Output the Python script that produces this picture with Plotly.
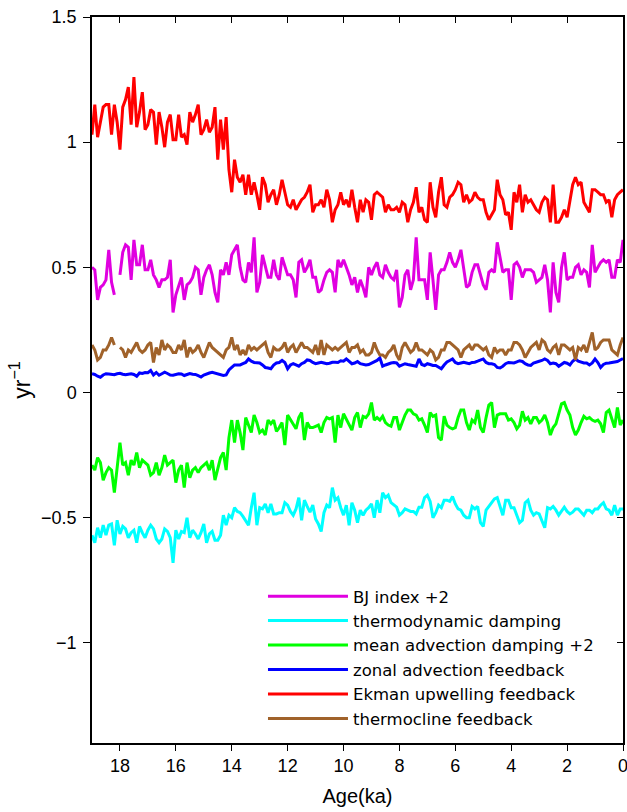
import plotly.graph_objects as go

age = [round(19.0 - 0.1 * i, 1) for i in range(191)]

bj_index = [0.50,0.49,0.37,0.42,0.43,0.45,0.57,0.44,0.39,None, 0.47,0.56,0.59,0.58,0.45,0.61,0.51,0.51,0.59,0.49,
            0.49,0.53,0.47,0.45,0.42,0.45,0.45,0.46,0.53,0.32, 0.39,0.43,0.46,0.37,0.43,0.44,0.46,0.50,0.49,0.39,
            0.46,0.49,0.51,0.47,0.40,0.36,0.49,0.47,
            0.52,0.47,0.55,0.57,0.59,0.50,0.45,0.44,0.52,0.48, 0.62,0.40,0.44,0.55,0.51,0.46,0.46,0.53,0.47,0.45,
            0.54,0.50,0.47,0.47,0.45,0.38,0.52,0.53,0.48,0.50, 0.53,0.46,0.46,0.40,0.41,0.45,0.48,0.49,0.48,0.40,
            0.53,0.50,0.53,0.50,0.47,0.43,0.46,0.40,
            0.45,0.42,0.38,0.50,0.47,0.50,0.52,0.47,0.46,0.51, 0.48,0.46,0.45,0.49,0.34,0.38,0.47,0.49,0.41,0.45,
            0.62,0.45,0.45,0.45,0.37,0.56,0.45,0.33,0.47,0.49, 0.49,0.52,0.56,0.52,0.50,0.53,0.57,0.49,0.42,0.43,
            0.48,0.51,0.51,0.47,0.43,0.41,0.48,
            0.49,0.48,0.60,0.54,0.48,0.49,0.49,0.37,0.51,0.52, 0.50,0.46,0.49,0.49,0.49,0.48,0.44,0.45,0.46,0.51,
            0.45,0.32,0.52,0.40,0.36,0.50,0.56,0.45,0.46,0.46, 0.50,0.51,0.47,0.49,0.48,0.42,0.59,0.48,0.50,0.52,
            0.53,0.52,0.53,0.46,0.46,0.53,0.52,0.61]

thermo_damping = [-0.57,-0.60,-0.54,-0.58,-0.53,-0.57,-0.53,-0.525,-0.61,-0.51, -0.565,-0.535,-0.545,-0.58,-0.56,-0.55,-0.60,-0.535,-0.56,-0.58,
                  -0.55,-0.53,-0.545,-0.585,-0.60,-0.585,-0.545,-0.555,-0.58,-0.68, -0.55,-0.585,-0.555,-0.56,-0.50,-0.58,-0.55,-0.565,-0.585,-0.56,
                  -0.525,-0.60,-0.565,-0.555,-0.59,-0.59,-0.57,-0.49,
                  -0.53,-0.49,-0.50,-0.46,-0.475,-0.48,-0.495,-0.51,-0.53,-0.46, -0.40,-0.53,-0.46,-0.465,-0.445,-0.48,-0.445,-0.485,-0.485,-0.48,
                  -0.48,-0.44,-0.45,-0.475,-0.49,-0.465,-0.42,-0.51,-0.43,-0.455, -0.478,-0.45,-0.505,-0.525,-0.555,-0.48,-0.45,-0.46,-0.38,-0.43,
                  -0.42,-0.46,-0.49,-0.45,-0.53,-0.44,-0.47,-0.52,
                  -0.47,-0.49,-0.47,-0.46,-0.445,-0.50,-0.43,-0.48,-0.40,-0.42, -0.41,-0.44,-0.45,-0.458,-0.49,-0.48,-0.465,-0.47,-0.475,-0.475,
                  -0.485,-0.458,-0.458,-0.42,-0.41,-0.435,-0.50,-0.48,-0.45,-0.46, -0.43,-0.43,-0.435,-0.415,-0.445,-0.465,-0.47,-0.49,-0.50,-0.50,
                  -0.455,-0.465,-0.455,-0.52,-0.535,-0.47,-0.455,
                  -0.44,-0.425,-0.42,-0.46,-0.49,-0.43,-0.43,-0.46,-0.46,-0.49, -0.52,-0.51,-0.44,-0.43,-0.47,-0.49,-0.48,-0.485,-0.51,-0.54,
                  -0.46,-0.465,-0.455,-0.47,-0.49,-0.475,-0.458,-0.475,-0.485,-0.478, -0.465,-0.465,-0.48,-0.49,-0.47,-0.47,-0.48,-0.465,-0.465,-0.45,
                  -0.44,-0.465,-0.47,-0.49,-0.45,-0.49,-0.465,-0.465]

mean_adv_damping = [-0.29,-0.31,-0.26,-0.28,-0.35,-0.32,-0.30,-0.31,-0.40,-0.29, -0.20,-0.29,-0.28,-0.33,-0.27,-0.29,-0.24,-0.30,-0.27,-0.28,
                    -0.29,-0.33,-0.32,-0.28,-0.33,-0.30,-0.25,-0.29,-0.28,-0.27, -0.36,-0.31,-0.29,-0.38,-0.28,-0.34,-0.31,-0.30,-0.32,-0.30,
                    -0.29,-0.28,-0.31,-0.27,-0.35,-0.31,-0.26,-0.24,
                    -0.31,-0.18,-0.11,-0.20,-0.11,-0.16,-0.23,-0.10,-0.13,-0.16, -0.09,-0.12,-0.16,-0.15,-0.17,-0.11,-0.125,-0.11,-0.155,-0.14,
                    -0.12,-0.21,-0.09,-0.11,-0.13,-0.145,-0.10,-0.08,-0.19,-0.12, -0.14,-0.14,-0.135,-0.13,-0.16,-0.12,-0.10,-0.105,-0.10,-0.20,
                    -0.09,-0.14,-0.085,-0.105,-0.13,-0.15,-0.10,-0.08,
                    -0.14,-0.095,-0.10,-0.085,-0.04,-0.11,-0.10,-0.11,-0.095,-0.12, -0.13,-0.135,-0.10,-0.10,-0.15,-0.12,-0.09,-0.07,-0.07,-0.085,
                    -0.09,-0.11,-0.105,-0.13,-0.16,-0.08,-0.095,-0.09,-0.18,-0.19, -0.095,-0.13,-0.14,-0.145,-0.14,-0.10,-0.07,-0.07,-0.12,-0.15,
                    -0.11,-0.12,-0.07,-0.14,-0.16,-0.10,-0.05,
                    -0.04,-0.14,-0.09,-0.085,-0.085,-0.085,-0.11,-0.105,-0.12,-0.145, -0.13,-0.075,-0.11,-0.10,-0.125,-0.10,-0.10,-0.12,-0.11,-0.09,
                    -0.12,-0.17,-0.14,-0.125,-0.085,-0.045,-0.04,-0.07,-0.09,-0.14, -0.17,-0.15,-0.12,-0.095,-0.105,-0.10,-0.11,-0.115,-0.11,-0.125,
                    -0.16,-0.08,-0.07,-0.11,-0.14,-0.06,-0.13,-0.11]

zonal_adv = [0.075,0.072,0.065,0.061,0.070,0.075,0.074,0.072,0.071,0.075, 0.077,0.073,0.071,0.073,0.075,0.072,0.065,0.078,0.076,0.080,
             0.079,0.088,0.070,0.080,0.069,0.075,0.081,0.076,0.070,0.069, 0.072,0.075,0.074,0.068,0.072,0.076,0.073,0.072,0.067,0.062,
             0.070,0.075,0.078,0.081,0.077,0.073,0.069,0.068,
             0.070,0.090,0.100,0.110,0.110,0.110,0.115,0.120,0.134,0.125, 0.120,0.120,0.118,0.110,0.100,0.098,0.095,0.110,0.118,0.120,
             0.128,0.120,0.095,0.110,0.115,0.110,0.105,0.115,0.120,0.130, 0.128,0.120,0.115,0.118,0.121,0.118,0.115,0.117,0.121,0.121,
             0.120,0.127,0.125,0.134,0.125,0.115,0.118,0.124,
             0.115,0.113,0.110,0.112,0.118,0.122,0.128,0.138,0.105,0.110, 0.115,0.118,0.120,0.118,0.105,0.110,0.115,0.112,0.110,0.108,
             0.105,0.134,0.112,0.108,0.115,0.112,0.108,0.108,0.100,0.095, 0.110,0.122,0.128,0.134,0.120,0.115,0.118,0.121,0.118,0.115,
             0.120,0.121,0.125,0.130,0.134,0.120,0.115,
             0.115,0.112,0.100,0.098,0.105,0.115,0.120,0.120,0.118,0.122, 0.127,0.124,0.115,0.110,0.108,0.118,0.120,0.125,0.128,0.134,
             0.128,0.115,0.118,0.115,0.105,0.112,0.120,0.117,0.110,0.125, 0.134,0.125,0.120,0.118,0.118,0.110,0.118,0.134,0.120,0.100,
             0.112,0.117,0.118,0.120,0.121,0.124,0.130,0.136]

ekman = [1.03,1.15,1.02,1.08,1.14,1.15,1.15,1.03,1.15,1.08, 0.97,1.14,1.17,1.22,1.07,1.26,1.06,1.12,1.20,1.05,
         1.07,1.13,1.12,0.99,1.12,1.06,0.98,1.08,1.11,1.01, 1.01,1.11,1.02,1.03,0.99,1.12,1.08,1.11,1.15,1.03,
         1.05,1.09,1.04,1.06,1.14,0.93,1.09,0.97,
         1.10,0.89,0.80,0.93,0.86,0.84,0.87,0.79,0.87,0.79, 0.84,0.79,0.73,0.86,0.83,0.76,0.79,0.81,0.75,0.79,
         0.85,0.80,0.75,0.74,0.77,0.73,0.75,0.77,0.78,0.80, 0.83,0.72,0.75,0.75,0.77,0.74,0.81,0.77,0.68,0.73,
         0.75,0.80,0.75,0.77,0.74,0.81,0.74,0.68,
         0.77,0.72,0.77,0.76,0.69,0.79,0.80,0.79,0.78,0.72, 0.75,0.73,0.73,0.74,0.72,0.76,0.75,0.68,0.73,0.76,
         0.82,0.72,0.74,0.69,0.68,0.84,0.74,0.70,0.80,0.86, 0.75,0.74,0.78,0.79,0.81,0.84,0.83,0.76,0.79,0.76,
         0.77,0.80,0.78,0.77,0.77,0.72,0.69,
         0.71,0.73,0.85,0.79,0.77,0.71,0.72,0.65,0.80,0.76, 0.83,0.72,0.79,0.76,0.77,0.75,0.73,0.72,0.76,0.78,
         0.77,0.68,0.83,0.68,0.68,0.70,0.73,0.70,0.77,0.83, 0.86,0.83,0.84,0.76,0.74,0.72,0.81,0.81,0.80,0.79,
         0.79,0.76,0.77,0.70,0.77,0.79,0.80,0.81]

thermocline = [0.19,0.17,0.13,0.14,0.17,0.17,0.19,0.22,0.19,None, 0.18,0.17,0.14,0.17,0.16,0.18,0.20,0.17,0.16,0.17,
               0.19,0.20,0.12,0.18,0.15,0.21,0.17,0.19,0.18,0.16, 0.16,0.19,0.17,0.21,0.14,0.18,0.16,0.17,0.19,0.16,
               0.14,0.17,0.20,0.18,0.17,0.16,0.15,0.14,
               0.17,0.18,0.22,0.17,0.19,0.15,0.17,0.15,0.19,0.17, 0.18,0.17,0.18,0.19,0.20,0.16,0.14,0.18,0.17,0.17,
               0.18,0.20,0.16,0.18,0.19,0.16,0.18,0.20,0.18,0.18, 0.17,0.16,0.19,0.15,0.21,0.15,0.19,0.18,0.17,0.18,
               0.17,0.18,0.19,0.20,0.16,0.18,0.18,0.19,
               0.16,0.17,0.15,0.15,0.16,0.20,0.17,0.15,0.15,0.14, 0.16,0.17,0.19,0.15,0.13,0.18,0.20,0.18,0.16,0.17,
               0.20,0.17,0.17,0.16,0.15,0.17,0.16,0.13,0.14,0.17, 0.17,0.20,0.20,0.19,0.18,0.17,0.14,0.17,0.18,0.19,
               0.17,0.19,0.19,0.18,0.17,0.18,0.15,
               0.14,0.18,0.16,0.17,0.17,0.15,0.17,0.17,0.20,0.20, 0.19,0.17,0.14,0.16,0.18,0.19,0.20,0.17,0.21,0.20,
               0.17,0.16,0.18,0.19,0.15,0.19,0.19,0.18,0.17,0.18, 0.13,0.18,0.17,0.19,0.16,0.20,0.24,0.17,0.18,0.20,
               0.21,0.21,0.21,0.17,0.16,0.15,0.19,0.22]

series_names = ["BJ index +2", "thermodynamic damping", "mean advection damping +2",
                "zonal advection feedback", "Ekman upwelling feedback", "thermocline feedback"]
series_values = [bj_index, thermo_damping, mean_adv_damping, zonal_adv, ekman, thermocline]
series_colors = ["#E000E0", "#00FFFF", "#00FF00", "#0000FF", "#FF0000", "#A0622A"]

x_ticks = [0, 2, 4, 6, 8, 10, 12, 14, 16, 18]
y_ticks = [-1, -0.5, 0, 0.5, 1, 1.5]

for v in series_values:
    assert len(v) == len(age), len(v)

FONT = "Liberation Sans, Arial, Helvetica, sans-serif"
LEG_FONT = "DejaVu Sans, Liberation Sans, sans-serif"

fig = go.Figure()
for name, vals, col in zip(series_names, series_values, series_colors):
    fig.add_trace(go.Scatter(x=age, y=vals, mode="lines", name=name,
                             line=dict(color=col, width=3), connectgaps=False))

# empty trace so that the mirrored top/right frame axes get drawn
fig.add_trace(go.Scatter(x=[None], y=[None], xaxis="x2", yaxis="y2", mode="lines",
                         showlegend=False, hoverinfo="skip"))

axis_common = dict(showgrid=False, zeroline=False, showline=True, linecolor="black",
                   linewidth=1.5, tickcolor="black", tickwidth=1.2,
                   tickfont=dict(family=FONT, size=18, color="black"))

fig.update_layout(
    width=627, height=812,
    margin=dict(l=92, r=4, t=17, b=69),
    paper_bgcolor="white", plot_bgcolor="white",
    font=dict(family=FONT, color="black"),
    xaxis=dict(range=[19, 0], tickvals=x_ticks, ticks="outside", ticklen=6,
               ticklabeloverflow="allow", automargin=False,
               title=dict(text="Age(ka)", font=dict(family=FONT, size=20), standoff=14),
               **axis_common),
    yaxis=dict(range=[-1.4, 1.5], tickvals=y_ticks, ticks="outside", ticklen=7,
               ticklabelstandoff=3, ticklabeloverflow="allow", automargin=False,
               title=dict(text="yr<sup>−1</sup>", font=dict(family=FONT, size=23), standoff=4),
               **axis_common),
    xaxis2=dict(range=[19, 0], tickvals=x_ticks, ticks="inside", ticklen=6, overlaying="x",
                side="top", showticklabels=False, anchor="y", **axis_common),
    yaxis2=dict(range=[-1.4, 1.5], tickvals=y_ticks, ticks="inside", ticklen=6, overlaying="y",
                side="right", showticklabels=False, anchor="x", **axis_common),
    legend=dict(x=0.322, y=0.226, xanchor="left", yanchor="top", bgcolor="rgba(0,0,0,0)",
                font=dict(family=LEG_FONT, size=16.5, color="black"), itemwidth=80,
                tracegroupgap=0),
    showlegend=True,
)

fig.write_html("out.html", config={"displayModeBar": False},
               post_script="document.body.style.margin='0';")
